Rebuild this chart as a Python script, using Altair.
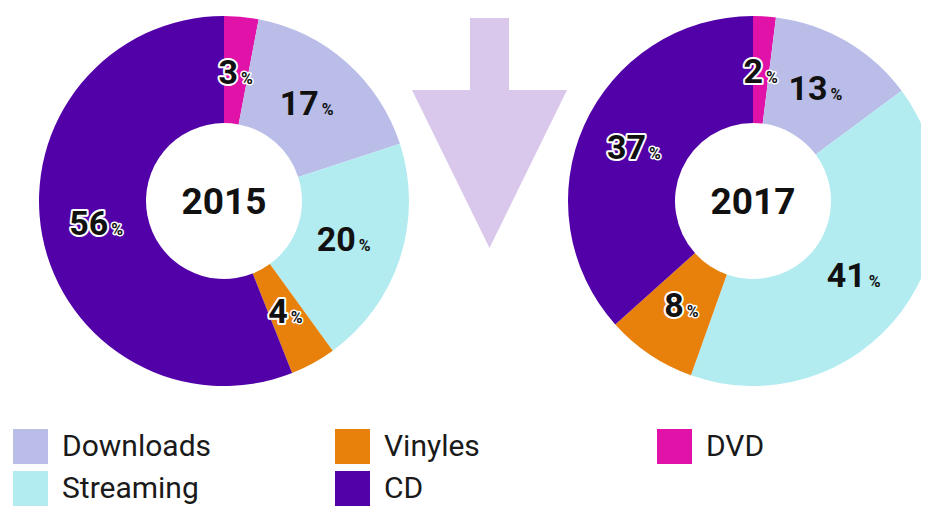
import altair as alt
import pandas as pd

# ---- data ----
categories = ["DVD", "Downloads", "Streaming", "Vinyles", "CD"]   # clockwise from 12 o'clock
years = ["2015", "2017"]
values_2015 = [3, 17, 20, 4, 56]
values_2017 = [2, 13, 41, 8, 37]
legend_order = ["Downloads", "Vinyles", "DVD", "Streaming", "CD"]
legend_colors = ["#b9bde8", "#e8800c", "#e012a8", "#b2ecf0", "#5200a8"]
dark_categories = ["DVD", "Vinyles", "CD"]

rows = []
for yr, vals in zip(years, [values_2015, values_2017]):
    for i, (c, v) in enumerate(zip(categories, vals)):
        rows.append({"year": yr, "category": c, "value": v, "order": i})
df = pd.DataFrame(rows)

centers = {"2015": (216, 193), "2017": (745, 193)}
R_OUT, R_IN, R_LAB = 185, 78, 128

NUM_FONT = "Roboto"
LEG_FONT = "Roboto"

theta_scale = alt.Scale(domain=[0, 1], range=[0, 6.283185307])

color = alt.Color(
    "category:N",
    scale=alt.Scale(domain=legend_order, range=legend_colors),
    legend=alt.Legend(
        orient="none", legendX=5, legendY=421, direction="horizontal", columns=3,
        symbolType="square", symbolSize=1225, symbolStrokeWidth=0, symbolOpacity=1,
        labelFont=LEG_FONT, labelFontSize=30, labelColor="#1a1a1a", labelOffset=14,
        columnPadding=123, rowPadding=7, title=None, gridAlign="all", labelLimit=400,
    ),
)

base = (
    alt.Chart(df)
    .transform_window(cum="sum(value)", sort=[alt.SortField("order")], groupby=["year"])
    .transform_joinaggregate(total="sum(value)", groupby=["year"])
    .transform_calculate(
        t0="(datum.cum - datum.value) / datum.total",
        t1="datum.cum / datum.total",
        tm="(datum.cum - datum.value / 2) / datum.total",
        label="'' + datum.value",
        pct="'%'",
        digits="datum.value >= 10 ? 2 : 1",
        dark="indexof(" + str(dark_categories).replace("'", '"') + ", datum.category) >= 0",
    )
)

layers = []
for yr in years:
    cx, cy = centers[yr]
    by = base.transform_filter(f"datum.year == '{yr}'")
    arc = by.mark_arc(radius=R_OUT, radius2=R_IN).encode(
        x=alt.value(cx), y=alt.value(cy),
        theta=alt.Theta("t0:Q", scale=theta_scale),
        theta2="t1:Q",
        color=color,
    )
    layers.append(arc)

    for nd, (dx_num, dx_pct) in {2: (10, 13), 1: (2, 5)}.items():
        sub = by.transform_filter(f"datum.digits == {nd}")
        enc = dict(x=alt.value(cx), y=alt.value(cy), theta=alt.Theta("tm:Q", scale=theta_scale))
        # halos for dark slices
        halo = sub.transform_filter("datum.dark")
        layers.append(halo.mark_text(radius=R_LAB, font=NUM_FONT, fontSize=34, fontWeight="bold",
                                     align="right", baseline="middle", dx=dx_num, fill="white",
                                     stroke="white", strokeWidth=4, strokeJoin="round").encode(text="label:N", **enc))
        layers.append(halo.mark_text(radius=R_LAB, font=NUM_FONT, fontSize=16, fontWeight="bold",
                                     align="left", baseline="middle", dx=dx_pct, dy=5, fill="white",
                                     stroke="white", strokeWidth=3, strokeJoin="round").encode(text="pct:N", **enc))
        layers.append(sub.mark_text(radius=R_LAB, font=NUM_FONT, fontSize=34, fontWeight="bold",
                                    align="right", baseline="middle", dx=dx_num, color="#111111").encode(text="label:N", **enc))
        layers.append(sub.mark_text(radius=R_LAB, font=NUM_FONT, fontSize=16, fontWeight="bold",
                                    align="left", baseline="middle", dx=dx_pct, dy=5, color="#111111").encode(text="pct:N", **enc))

    year_text = alt.Chart(pd.DataFrame({"year": [yr]})).mark_text(
        font=NUM_FONT, fontSize=37, fontWeight="bold", color="#111111", baseline="middle", align="center"
    ).encode(x=alt.value(cx), y=alt.value(cy + 2), text="year:N")
    layers.append(year_text)

arrow_path = "M -0.17 -1 L 0.17 -1 L 0.17 -0.374 L 0.674 -0.374 L 0 1 L -0.674 -0.374 L -0.17 -0.374 Z"
arrow = alt.Chart(pd.DataFrame({"a": [0]})).mark_point(
    shape=arrow_path, filled=True, size=52900, color="#d9c7ec", opacity=1, strokeWidth=0
).encode(x=alt.value(481.5), y=alt.value(125))
layers.insert(0, arrow)

chart = (
    alt.layer(*layers)
    .properties(width=913, height=504, padding=0, autosize=alt.AutoSizeParams(type="none"), background="white")
    .configure_view(stroke=None)
)

chart.save("out.html", embed_options={"renderer": "svg", "actions": False})
